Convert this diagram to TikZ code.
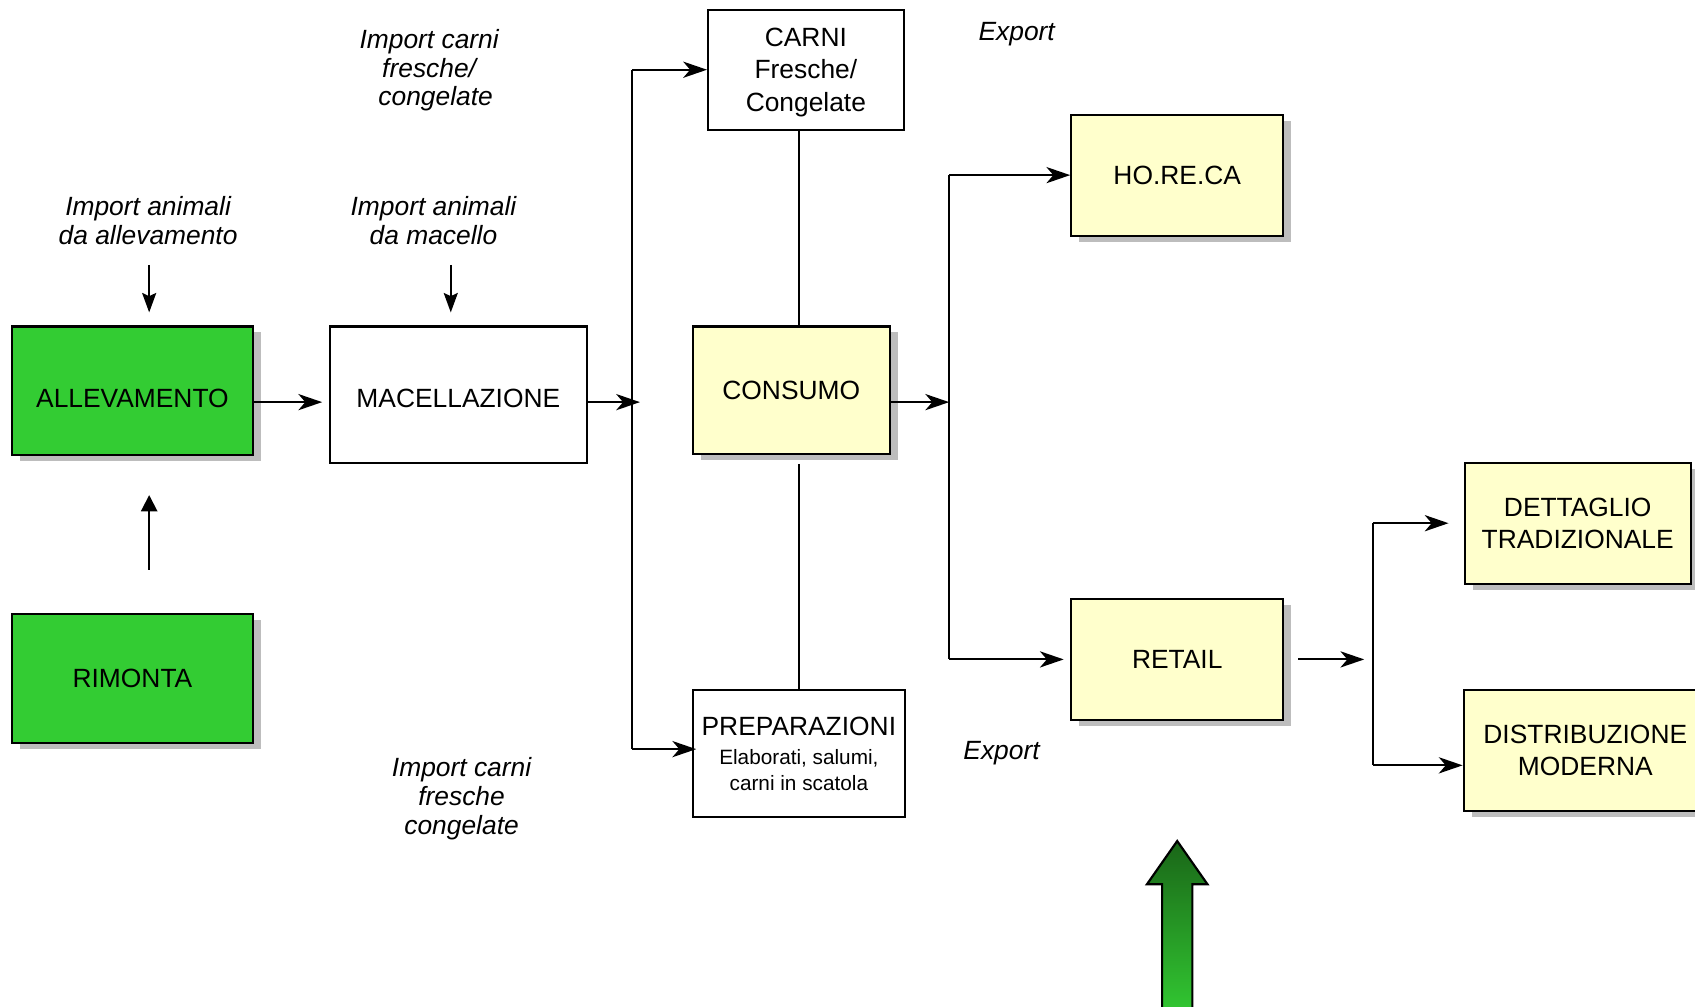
\documentclass[tikz,border=0pt]{standalone}
\usepackage{fontspec}
\setmainfont{Liberation Sans}
\usetikzlibrary{arrows.meta,shadows,calc}
\definecolor{boxgreen}{HTML}{33CC33}
\definecolor{boxyellow}{HTML}{FFFFCC}
\definecolor{darkgreen}{HTML}{1A6618}
\begin{document}
\begin{tikzpicture}[x=0.5pt,y=-0.5pt,
  box/.style={draw=black,line width=1pt,rectangle,align=center,inner sep=0pt,font=\fontsize{12.2}{15}\selectfont},
  shad/.style={drop shadow={shadow xshift=3.75pt,shadow yshift=-2.75pt,fill=black!26,opacity=1}},
  gbox/.style={box,shad,fill=boxgreen},
  ybox/.style={box,shad,fill=boxyellow},
  wbox/.style={box,fill=white},
  lbl/.style={align=center,font=\fontsize{12.2}{13.3}\selectfont\itshape,inner sep=0pt},
  conn/.style={line width=0.9pt},
  arr/.style={conn,-{Stealth[length=11pt,width=7.5pt,inset=3.2pt]}},
  darr/.style={conn,-{Stealth[length=9pt,width=6.5pt,inset=1.5pt]}},
  uarr/.style={conn,-{Triangle[length=7.5pt,width=7.5pt]}},
]
\useasboundingbox (0,0) rectangle (1568,931);

% boxes
\node[gbox,minimum width=111.5pt,minimum height=59.5pt] (allev) at (122.5,361.5) {\raisebox{-3.5pt}[\height][\depth]{ALLEVAMENTO}};
\node[gbox,minimum width=111.5pt,minimum height=59.5pt] (rim) at (122.5,627.5) {RIMONTA};
\node[wbox,minimum width=119pt,minimum height=63pt] (mac) at (424,365) {\raisebox{-2pt}[\height][\depth]{MACELLAZIONE}};
\node[wbox,minimum width=90.5pt,minimum height=55.5pt,text depth=0pt] (carni) at (745.5,64.5) {CARNI\\Fresche/\\Congelate};
\node[ybox,minimum width=91pt,minimum height=59pt] (cons) at (732,361) {CONSUMO};
\node[wbox,minimum width=98pt,minimum height=59pt,font=\fontsize{9.6}{12}\selectfont,text depth=-2pt] (prep) at (739,697) {{\fontsize{12.2}{15}\selectfont PREPARAZIONI}\\[1.5pt]Elaborati, salumi,\\carni in scatola};
\node[ybox,minimum width=98pt,minimum height=56pt] (horeca) at (1089,162) {HO.RE.CA};
\node[ybox,minimum width=98pt,minimum height=56pt] (retail) at (1089,610) {RETAIL};
\node[ybox,minimum width=104.5pt,minimum height=56pt] (dett) at (1459.5,484) {DETTAGLIO\\TRADIZIONALE};
\node[ybox,minimum width=112.5pt,minimum height=56pt] (distr) at (1466.5,694) {DISTRIBUZIONE\\MODERNA};

% labels
\node[lbl] (impA) at (137,204) {Import animali\\da allevamento};
\node[lbl] (impM) at (401,204) {Import animali\\da macello};
\node[lbl] (impC1) at (397,65) {Import carni\\fresche/\\\hspace*{6pt}congelate};
\node[lbl] (impC2) at (427,739) {Import carni\\fresche\\congelate};
\node[lbl] (exp1) at (940.5,32) {Export};
\node[lbl] (exp2) at (926.5,697) {Export};

% junction coordinates
\coordinate (j1) at (585,372);
\coordinate (pj) at (585,693);
\coordinate (j2) at (878,372);
\coordinate (j3) at (1270,610);
\coordinate (dj) at (1270,708);
\coordinate (aA) at (138,245);
\coordinate (aM) at (417,245);
\coordinate (aR) at (138,527);

% connectors
\draw[darr,shorten >=6pt] (aA) -- (aA |- allev.north);
\draw[darr,shorten >=6pt] (aM) -- (aM |- mac.north);
\draw[uarr,shorten >=18pt] (aR) -- (aR |- allev.south);

\draw[arr,shorten >=3pt] (allev.east |- j1) -- (mac.west |- j1);
\draw[arr,shorten >=-3.5pt] (mac.east |- j1) -- (j1);
\draw[conn] (j1 |- carni.west) -- (pj);
\draw[arr] (j1 |- carni.west) -- (carni.west);
\draw[arr,shorten >=-2pt] (pj) -- (prep.west |- pj);
\draw[conn] (prep.north |- carni.south) -- (prep.north |- cons.north);
\draw[conn] ($(prep.north |- cons.south)+(0,8)$) -- (prep.north);

\draw[arr] (cons.east |- j2) -- (j2);
\draw[conn] (j2 |- horeca.west) -- (j2 |- retail.west);
\draw[arr] (j2 |- horeca.west) -- (horeca.west);
\draw[arr,shorten >=3pt] (j2 |- retail.west) -- (retail.west);
\draw[arr,shorten <=6.5pt,shorten >=4pt] (retail.east) -- (j3);
\draw[conn] (j3 |- dett.west) -- (dj);
\draw[arr,shorten >=7pt] (j3 |- dett.west) -- (dett.west);
\draw[arr] (dj) -- (distr.west |- dj);

% big green arrow
\shade[top color=darkgreen,bottom color=boxgreen,draw=black,line width=1pt]
  (1075,945) -- (1075,818) -- (1061,818) -- (1089,778) -- (1117,818) -- (1103,818) -- (1103,945) -- cycle;
\end{tikzpicture}
\end{document}
